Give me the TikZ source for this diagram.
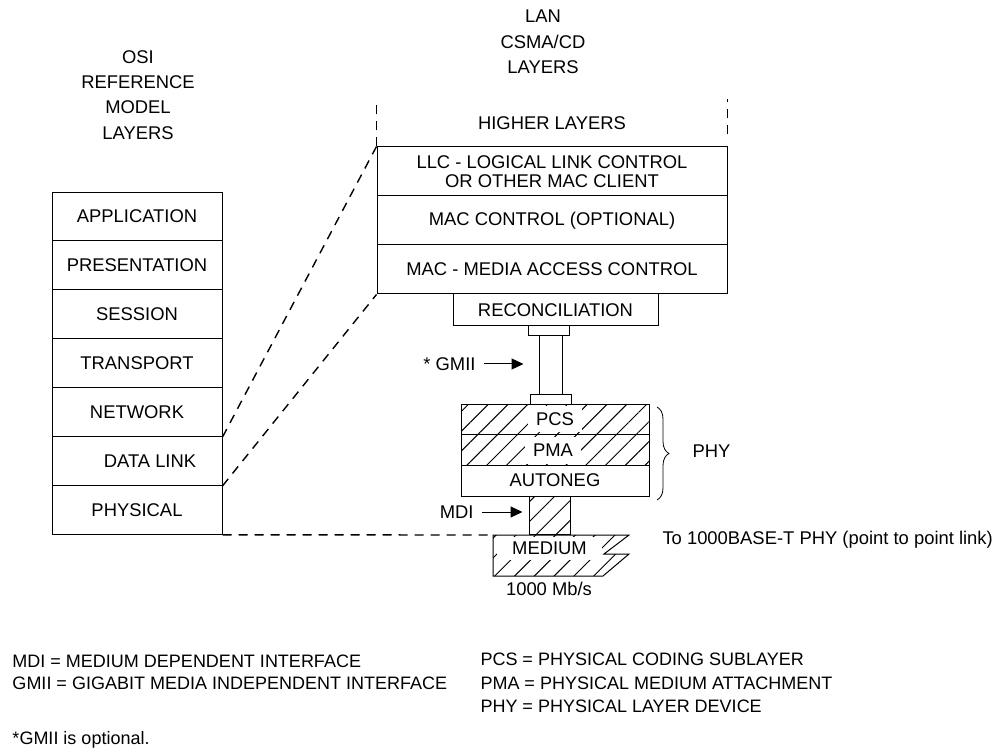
\documentclass[tikz,border=0pt]{standalone}
\usepackage{fontspec}
\setmainfont{Liberation Sans}
\usetikzlibrary{patterns.meta,decorations.pathreplacing,arrows.meta}

\tikzset{
        layer/.style={draw, inner sep=0pt, align=center, font=\fontsize{18.4}{19}\selectfont},
        osibox/.style={layer, minimum width=170pt, minimum height=48.9pt},
        lanbox/.style={layer, minimum width=350pt, minimum height=49pt},
        hatch/.style={pattern={Lines[angle=45, distance=14pt, line width=1pt]}},
        txt/.style={font=\fontsize{18.4}{19}\selectfont, inner sep=1pt},
        heading/.style={font=\fontsize{18.4}{25.3}\selectfont, align=center, inner sep=0pt},
        clearlabel/.style={txt, fill=white, inner sep=0pt},
        note/.style={font=\fontsize{18}{20}\selectfont, anchor=west, inner sep=0pt},
        ptr/.style={-{Triangle[length=12pt, width=11pt]}},
        link/.style={line width=1.4pt, dash pattern=on 9pt off 7pt},
}

\begin{document}
\begin{tikzpicture}[x=1pt, y=-1pt, line width=1pt]
        \useasboundingbox (0,0) rectangle (997,754);
        \node[heading] (osititle) at (138,95) {OSI\\REFERENCE\\MODEL\\LAYERS};
        \node[heading] (lantitle) at (543,42) {LAN\\CSMA/CD\\LAYERS};
        \node[osibox] (app) at (137,216.5) {APPLICATION};
        \node[osibox] (pres) at (137,265.4) {PRESENTATION};
        \node[osibox] (ses) at (137,314.3) {SESSION};
        \node[osibox] (trans) at (137,363.2) {TRANSPORT};
        \node[osibox] (net) at (137,412.1) {NETWORK};
        \node[osibox] (dl) at (137,461) {\hspace*{26pt}DATA LINK};
        \node[osibox] (phys) at (137,509.9) {PHYSICAL};
        \node[txt] (higher) at (552,123) {HIGHER LAYERS};
        \node[lanbox] (llc) at (552,171.5) {LLC - LOGICAL LINK CONTROL\\OR OTHER MAC CLIENT};
        \node[lanbox] (macctl) at (552,220.5) {MAC CONTROL (OPTIONAL)};
        \node[lanbox] (mac) at (552,269.5) {MAC - MEDIA ACCESS CONTROL};
        \node[layer, minimum width=205pt, minimum height=32pt] (recon) at (555.5,310) {RECONCILIATION};
        \node[layer, minimum width=41pt, minimum height=10pt] (gtop) at (548.5,331) {};
        \node[layer, minimum width=23pt, minimum height=58pt] (gmiitube) at (550.5,365) {};
        \node[layer, minimum width=41pt, minimum height=10pt] (gbot) at (550.5,399) {};
        \node[layer, hatch, minimum width=188pt, minimum height=30pt] (pcs) at (555,419) {};
        \node[layer, hatch, minimum width=188pt, minimum height=31pt] (pma) at (555,449.5) {};
        \node[layer, minimum width=188pt, minimum height=31pt] (autoneg) at (555,480.5) {AUTONEG};
        \node[clearlabel, minimum width=54pt, minimum height=26pt] (pcstext) at (555,419) {PCS};
        \node[clearlabel, minimum width=56pt, minimum height=27pt] (pmatext) at (553,450) {PMA};
        \node[layer, hatch, minimum width=41pt, minimum height=38pt] (mditube) at (549.5,515) {};
        \coordinate (m1) at (493,535);
        \coordinate (m2) at (629,535);
        \coordinate (m3) at (604,554);
        \coordinate (m4) at (629,554);
        \coordinate (m5) at (603,576);
        \coordinate (m6) at (493,576);
        \fill[hatch] (m1) -- (m2) -- (m3) -- (m4) -- (m5) -- (m6) -- cycle;
        \node[clearlabel, minimum width=105pt, minimum height=23pt] (medium) at (549.5,548) {MEDIUM};
        \draw (m1) -- (m2) -- (m3) -- (m4) -- (m5) -- (m6) -- cycle;
        \node[txt] (rate) at (549,589) {1000 Mb/s};
        \node[txt, anchor=west] (tolink) at (661,540) {To 1000BASE-T PHY (point to point link)};
        \node[txt, anchor=west] (phy) at (691,451) {PHY};
        \node[txt, anchor=east] (gmii) at (477,364) {* GMII};
        \node[txt, anchor=east] (mdi) at (475,512) {MDI};
        \draw[ptr, shorten <=7pt, shorten >=15pt] (gmii.east) -- (gmii.east -| gmiitube.west);
        \draw[ptr, shorten <=7pt, shorten >=6pt] (mdi.east) -- (mdi.east -| mditube.west);
        \draw[decorate, decoration={brace, amplitude=12pt}, line width=0.8pt] (657,407) -- (657,500);
        \draw[link] (net.south east) -- (llc.north west);
        \draw[link] (dl.south east) -- (mac.south west);
        \draw[link] (phys.south east) -- (m1);
        \draw[link] (llc.north west) -- ++(0,-47);
        \draw[link] ([yshift=12pt]llc.north east) -- ++(0,-35);
        \node[note] (mdinote) at (12,661) {MDI = MEDIUM DEPENDENT INTERFACE};
        \node[note] (gmiinote) at (12,683) {GMII = GIGABIT MEDIA INDEPENDENT INTERFACE};
        \node[note] (pcsnote) at (480,659) {PCS = PHYSICAL CODING SUBLAYER};
        \node[note] (pmanote) at (480,683) {PMA = PHYSICAL MEDIUM ATTACHMENT};
        \node[note] (phynote) at (480,706) {PHY = PHYSICAL LAYER DEVICE};
        \node[note] (optnote) at (12,740) {*GMII is optional.};
\end{tikzpicture}
\end{document}
